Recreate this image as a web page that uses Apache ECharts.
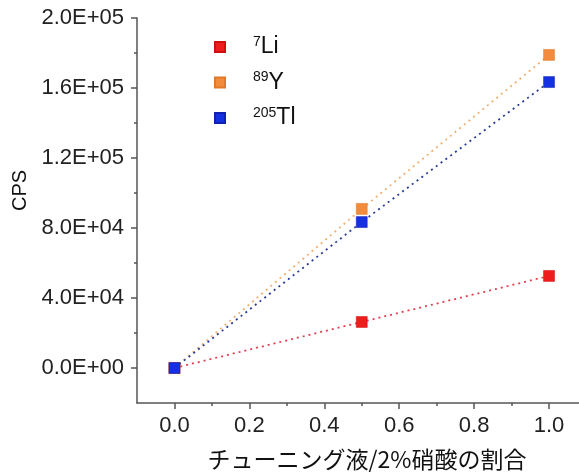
<!DOCTYPE html>
<html>
<head>
<meta charset="utf-8">
<script src="https://cdn.jsdelivr.net/npm/echarts@6/dist/echarts.min.js"></script>
<style>
  html, body { margin: 0; padding: 0; background: #fff; }
  #chart-main { width: 579px; height: 475px; }
</style>
</head>
<body>
<div id="chart-main"></div>
<script>
// データ（チューニング液/2%硝酸の割合 と CPS）
var ratios = [0, 0.5, 1.0];
var li7 = [0, 26300, 52600];
var y89 = [0, 90900, 178900];
var tl205 = [0, 83400, 163400];

var xMajor = [0, 0.2, 0.4, 0.6, 0.8, 1.0];
var xMinor = [0.1, 0.3, 0.5, 0.7, 0.9];
var yMajor = [0, 40000, 80000, 120000, 160000, 200000];
var yMinor = [20000, 60000, 100000, 140000, 180000];

function sci(v) {
  if (v === 0) return '0.0E+00';
  var e = Math.floor(Math.log10(Math.abs(v)) + 1e-9);
  var m = v / Math.pow(10, e);
  return m.toFixed(1) + 'E' + (e < 0 ? '-' : '+') + String(Math.abs(e)).padStart(2, '0');
}

function pairs(ys) {
  return ratios.map(function (x, i) { return [x, ys[i]]; });
}

var font = '"Liberation Sans", Arial, sans-serif';
var axisColor = '#555';

var myChart = echarts.init(document.getElementById('chart-main'));
var option = {
  animation: false,
  textStyle: { fontFamily: font },
  grid: { left: 137, right: 0, top: 18, bottom: 72, outerBoundsMode: 'none' },
  legend: {
    orient: 'vertical',
    left: 209,
    top: 30,
    itemWidth: 10,
    itemHeight: 10,
    itemGap: 12,
    icon: 'rect',
    selectedMode: false,
    data: ['li', 'y', 'tl'],
    formatter: function (name) {
      if (name === 'li') return '{sup|7}{main|Li}';
      if (name === 'y') return '{sup|89}{main|Y}';
      return '{sup|205}{main|Tl}';
    },
    textStyle: {
      padding: [0, 0, 0, 23],
      rich: {
        sup: { fontSize: 14, color: '#111', verticalAlign: 'top', lineHeight: 14, fontFamily: font },
        main: { fontSize: 23, color: '#111', lineHeight: 24, fontFamily: font }
      }
    }
  },
  xAxis: [
    {
      type: 'value',
      min: -0.1,
      max: 1.08,
      name: 'チューニング液/2%硝酸の割合',
      nameLocation: 'middle',
      nameGap: 45,
      nameTextStyle: { fontSize: 23, color: '#111', fontFamily: '"Noto Sans CJK JP", sans-serif', padding: [0, 0, 0, 18] },
      axisLine: { show: true, onZero: false, lineStyle: { color: axisColor, width: 1.5 } },
      axisTick: { show: true, customValues: xMajor, length: 6, lineStyle: { color: axisColor, width: 1.5 } },
      axisLabel: { customValues: xMajor, fontSize: 22, color: '#222', margin: 12, formatter: function (v) { return v.toFixed(1); } },
      splitLine: { show: false }
    },
    {
      type: 'value',
      min: -0.1,
      max: 1.08,
      position: 'bottom',
      axisLine: { show: false, onZero: false },
      axisTick: { show: true, inside: false, customValues: xMinor, length: 3, lineStyle: { color: axisColor, width: 1.5 } },
      axisLabel: { show: false },
      splitLine: { show: false }
    }
  ],
  yAxis: [
    {
      type: 'value',
      min: -20000,
      max: 200000,
      name: 'CPS',
      nameLocation: 'middle',
      nameGap: 103,
      nameTextStyle: { fontSize: 20, color: '#111', padding: [0, 0, 0, 40] },
      axisLine: { show: true, onZero: false, lineStyle: { color: axisColor, width: 1.5 } },
      axisTick: { show: true, customValues: yMajor, length: 6, lineStyle: { color: axisColor, width: 1.5 } },
      axisLabel: { customValues: yMajor, fontSize: 22, color: '#222', margin: 13, formatter: sci },
      splitLine: { show: false }
    },
    {
      type: 'value',
      min: -20000,
      max: 200000,
      position: 'left',
      axisLine: { show: false, onZero: false },
      axisTick: { show: true, inside: false, customValues: yMinor, length: 3, lineStyle: { color: axisColor, width: 1.5 } },
      axisLabel: { show: false },
      splitLine: { show: false }
    }
  ],
  series: [
    {
      name: 'li',
      type: 'line',
      data: pairs(li7),
      symbol: 'rect',
      symbolSize: 11,
      itemStyle: { color: '#ee1c1c', borderColor: '#d01010', borderWidth: 0.5 },
      lineStyle: { color: '#e04050', type: [2, 4], width: 1.8 }
    },
    {
      name: 'y',
      type: 'line',
      data: pairs(y89),
      symbol: 'rect',
      symbolSize: 11,
      itemStyle: { color: '#f28c3c', borderColor: '#e07a2a', borderWidth: 0.5 },
      lineStyle: { color: '#f2b070', type: [2, 4], width: 1.8 }
    },
    {
      name: 'tl',
      type: 'line',
      data: pairs(tl205),
      symbol: 'rect',
      symbolSize: 11,
      itemStyle: { color: '#1530e0', borderColor: '#1020b0', borderWidth: 0.5 },
      lineStyle: { color: '#2a3c9a', type: [2, 4], width: 1.8 }
    }
  ]
};
myChart.setOption(option);
</script>
</body>
</html>
